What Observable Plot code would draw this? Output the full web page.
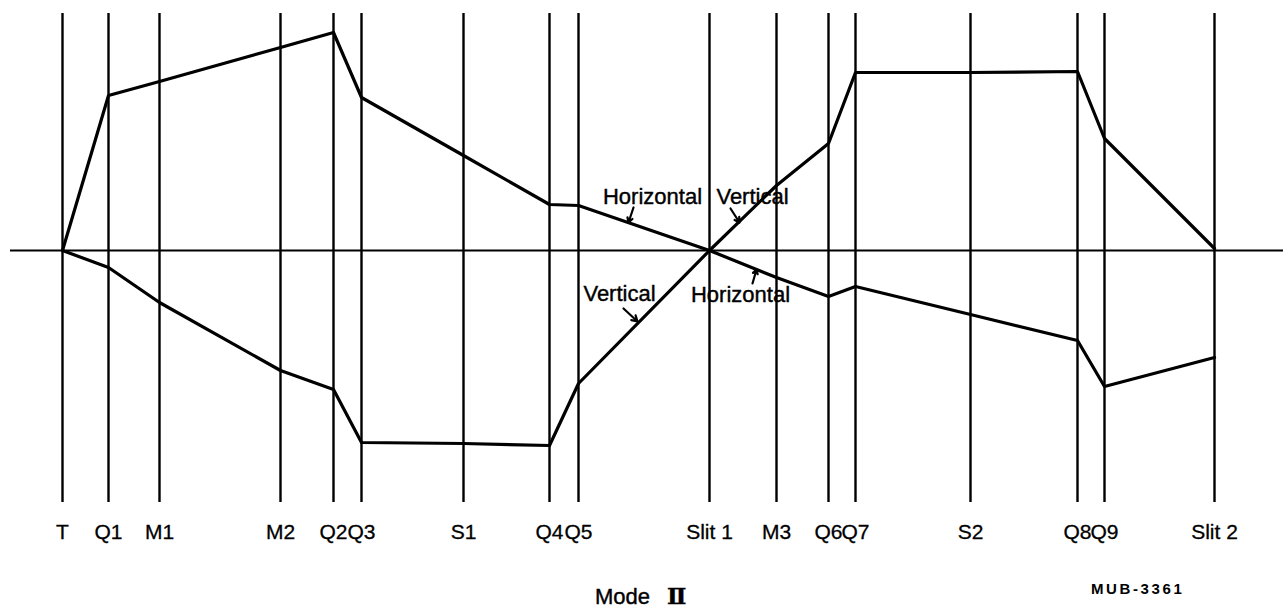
<!DOCTYPE html>
<html><head><meta charset="utf-8">
<script src="https://cdn.jsdelivr.net/npm/d3@7"></script>
<script src="https://cdn.jsdelivr.net/npm/@observablehq/plot@0.6"></script>
<style>
body{margin:0;background:#fff;font-family:"Liberation Sans",Arial,sans-serif;color:#000;}
#wrap{position:relative;width:1283px;height:612px;overflow:hidden;}
.cap{position:absolute;line-height:1;white-space:nowrap;}
#mode{left:595px;top:584px;font-size:22px;-webkit-text-stroke:0.4px #000;}
#mode span{font-family:"DejaVu Serif",serif;font-size:23px;font-weight:bold;margin-left:17px;}
#mub{left:1091px;top:581px;font-size:15px;font-weight:bold;letter-spacing:2.6px;}
</style></head><body>
<div id="wrap"><div id="chart"></div>
<div id="mode" class="cap">Mode<span>Ⅱ</span></div>
<div id="mub" class="cap">MUB-3361</div></div>
<script>
// beam-line elements and their positions along the line (arbitrary units)
const elements = ["T","Q1","M1","M2","Q2","Q3","S1","Q4","Q5","Slit 1","M3","Q6","Q7","S2","Q8","Q9","Slit 2"];
const positions = [0, 4.6, 9.7, 21.8, 27.1, 29.9, 40.1, 48.7, 51.6, 64.7, 71.4, 76.6, 79.3, 90.8, 101.5, 104.2, 115.2];
// beam envelopes (arbitrary units, + above axis)
const horizontal = [0, 15.5, 16.9, 20.3, 21.8, 15.3, 9.5, 4.6, 4.5, 0, -2.7, -4.6, -3.6, -6.4, -9.0, -13.6, -10.7];
const vertical   = [0, -1.7, -5.2, -12.0, -13.9, -19.2, -19.3, -19.5, -13.3, 0, 6.5, 10.7, 17.8, 17.8, 17.9, 11.2, 0.2];
// annotations (data units)
const noteText = ["Horizontal","Vertical","Vertical","Horizontal"];
const noteX = [59.0, 69.0, 55.7, 67.8];
const noteY = [5.4, 5.4, -4.3, -4.4];
const arrowX1 = [57.1, 66.8, 56.1, 69.0];
const arrowY1 = [4.3, 4.2, -5.8, -3.3];
const arrowX2 = [56.6, 67.7, 57.5, 69.4];
const arrowY2 = [2.8, 2.8, -7.1, -1.9];

const labelOf = new Map(positions.map((p, i) => [p, elements[i]]));
const hData = positions.map((p, i) => ({x: p, y: horizontal[i]}));
const vData = positions.map((p, i) => ({x: p, y: vertical[i]}));
const notes = noteText.map((t, i) => ({t, x: noteX[i], y: noteY[i]}));
const arrows = arrowX1.map((x1, i) => ({x1, y1: arrowY1[i], x2: arrowX2[i], y2: arrowY2[i]}));

const chart = Plot.plot({
  width: 1283,
  height: 560,
  marginLeft: 10,
  marginRight: 0,
  marginTop: 13,
  marginBottom: 58,
  style: {background: "#fff", fontFamily: "Liberation Sans, Arial, sans-serif", color: "#000"},
  x: {domain: [-5.2, 122.1], axis: null},
  y: {domain: [-25.2, 23.7], axis: null},
  marks: [
    Plot.ruleX(positions, {stroke: "#000", strokeWidth: 2.4}),
    Plot.ruleY([0], {stroke: "#000", strokeWidth: 2}),
    Plot.line(hData, {x: "x", y: "y", stroke: "#000", strokeWidth: 3.2, strokeLinejoin: "round"}),
    Plot.line(vData, {x: "x", y: "y", stroke: "#000", strokeWidth: 3.2, strokeLinejoin: "round"}),
    Plot.arrow(arrows, {x1: "x1", y1: "y1", x2: "x2", y2: "y2", stroke: "#000", strokeWidth: 2.2, headLength: 7}),
    Plot.text(notes, {x: "x", y: "y", text: "t", fontSize: 22, fill: "#000", stroke: "#000", strokeWidth: 0.4}),
    Plot.text(positions, {x: d => d, text: d => labelOf.get(d), frameAnchor: "bottom", dy: 36, fontSize: 21, fill: "#000", stroke: "#000", strokeWidth: 0.3})
  ]
});
document.getElementById("chart").appendChild(chart);
</script>
</body></html>
